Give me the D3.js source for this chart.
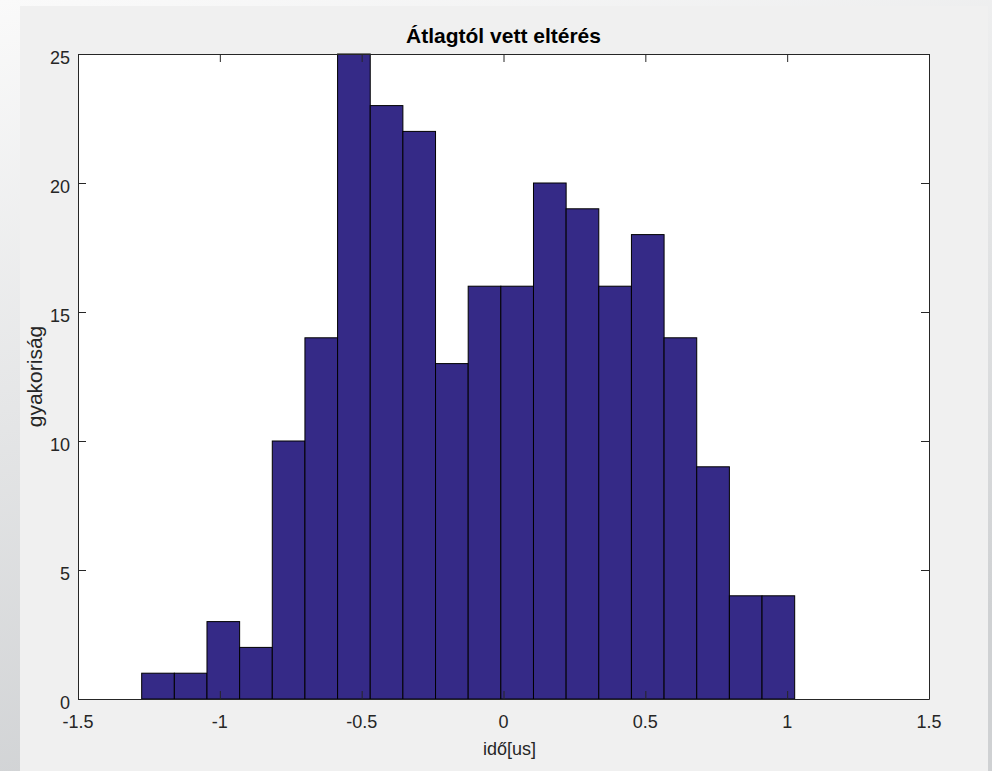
<!DOCTYPE html>
<html>
<head>
<meta charset="utf-8">
<script src="https://cdn.jsdelivr.net/npm/d3@7"></script>
<style>
  body { margin: 0; overflow: hidden; }
  text { font-family: "Liberation Sans", Arial, sans-serif; fill: #262626; }
</style>
</head>
<body>
<div id="chart"></div>
<script>
// histogram data, 20 bins
var binStart = -1.2755,
    binWidth = 0.1151;
var counts = [1, 1, 3, 2, 10, 14, 25, 23, 22, 13, 16, 16, 20, 19, 16, 18, 14, 9, 4, 4];
var xTicks = [-1.5, -1, -0.5, 0, 0.5, 1, 1.5];
var yTicks = [0, 5, 10, 15, 20, 25];

var W = 992, H = 771;
var plot = {left: 78, right: 929, top: 54, bottom: 699};

var svg = d3.select("#chart").append("svg")
    .attr("width", W)
    .attr("height", H);

// background: window gradient + figure panel
var defs = svg.append("defs");
var grad = defs.append("linearGradient")
    .attr("id", "bg")
    .attr("x1", "0").attr("y1", "0")
    .attr("x2", "0.3").attr("y2", "1");
grad.append("stop").attr("offset", "0%").attr("stop-color", "#fafafa");
grad.append("stop").attr("offset", "100%").attr("stop-color", "#cfd1d3");

svg.append("rect")
    .attr("width", W).attr("height", H)
    .attr("fill", "url(#bg)");

svg.append("rect")
    .attr("x", 20).attr("y", 6)
    .attr("width", 968).attr("height", H - 6)
    .attr("fill", "#f0f0f0");

var x = d3.scaleLinear().domain([-1.5, 1.5]).range([plot.left, plot.right]);
var y = d3.scaleLinear().domain([0, 25]).range([plot.bottom, plot.top]);

// white axes area
svg.append("rect")
    .attr("x", plot.left).attr("y", plot.top)
    .attr("width", plot.right - plot.left)
    .attr("height", plot.bottom - plot.top)
    .attr("fill", "#fff");

// bars
svg.append("g").selectAll("rect")
    .data(counts)
    .enter().append("rect")
    .attr("x", function(d, i) { return x(binStart + i * binWidth); })
    .attr("width", function(d, i) { return x(binStart + (i + 1) * binWidth) - x(binStart + i * binWidth); })
    .attr("y", function(d) { return y(d); })
    .attr("height", function(d) { return y(0) - y(d); })
    .attr("fill", "#352a87")
    .attr("stroke", "#000")
    .attr("stroke-width", 1);

// axes, ticks pointing inward
var tickLen = 8;
function styleAxis(g) {
  g.select(".domain").attr("stroke", "#262626");
  g.selectAll(".tick line").attr("stroke", "#262626");
}

svg.append("g")
    .attr("transform", "translate(0," + plot.bottom + ")")
    .call(d3.axisBottom(x).tickValues(xTicks).tickSize(-tickLen).tickSizeOuter(0).tickFormat(""))
    .call(styleAxis);
svg.append("g")
    .attr("transform", "translate(0," + plot.top + ")")
    .call(d3.axisTop(x).tickValues(xTicks).tickSize(-tickLen).tickSizeOuter(0).tickFormat(""))
    .call(styleAxis);
svg.append("g")
    .attr("transform", "translate(" + plot.left + ",0)")
    .call(d3.axisLeft(y).tickValues(yTicks).tickSize(-tickLen).tickSizeOuter(0).tickFormat(""))
    .call(styleAxis);
svg.append("g")
    .attr("transform", "translate(" + plot.right + ",0)")
    .call(d3.axisRight(y).tickValues(yTicks).tickSize(-tickLen).tickSizeOuter(0).tickFormat(""))
    .call(styleAxis);

// tick labels
svg.append("g").selectAll("text")
    .data(xTicks)
    .enter().append("text")
    .attr("x", function(d) { return x(d); })
    .attr("y", plot.bottom + 29)
    .attr("text-anchor", "middle")
    .attr("font-size", "18px")
    .text(function(d) { return d; });

svg.append("g").selectAll("text")
    .data(yTicks)
    .enter().append("text")
    .attr("x", plot.left - 8)
    .attr("y", function(d) { return y(d) + 10; })
    .attr("text-anchor", "end")
    .attr("font-size", "18px")
    .text(function(d) { return d; });

// title and labels
svg.append("text")
    .attr("x", (plot.left + plot.right) / 2)
    .attr("y", 43)
    .attr("text-anchor", "middle")
    .attr("font-size", "21px")
    .attr("font-weight", "bold")
    .style("fill", "#000")
    .text("Átlagtól vett eltérés");

svg.append("text")
    .attr("x", (plot.left + plot.right) / 2 + 6)
    .attr("y", 755)
    .attr("text-anchor", "middle")
    .attr("font-size", "18px")
    .text("idő[us]");

svg.append("text")
    .attr("transform", "translate(42," + (plot.top + plot.bottom) / 2 + ") rotate(-90)")
    .attr("text-anchor", "middle")
    .attr("font-size", "21px")
    .text("gyakoriság");
</script>
</body>
</html>
